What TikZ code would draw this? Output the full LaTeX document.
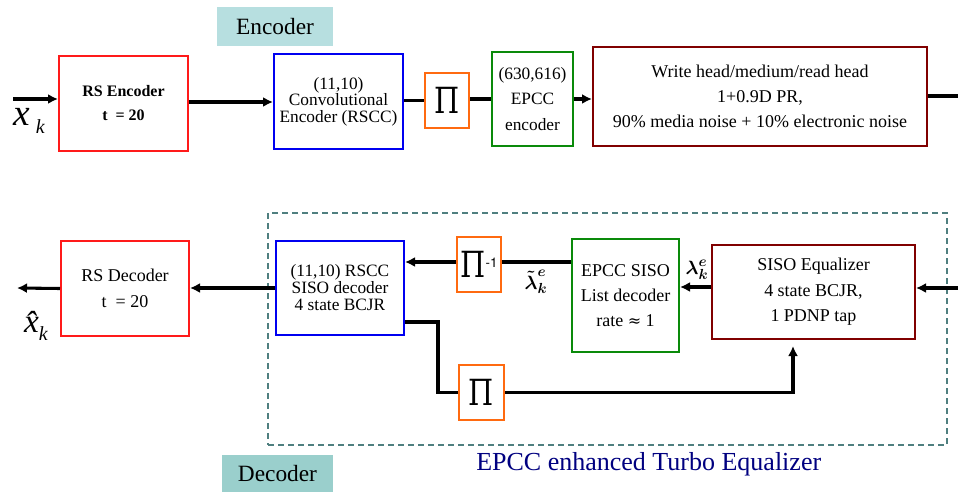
\documentclass[tikz,border=0pt]{standalone}
\usepackage{amsmath}
\usepackage{fontspec}
\newfontfamily\libser{Liberation Serif}
\newfontfamily\djser{DejaVu Serif}
\newfontfamily\heros{TeX Gyre Heros}
\usetikzlibrary{arrows.meta,calc}
\definecolor{cred}{HTML}{FF1A1A}
\definecolor{cblue}{HTML}{0000F0}
\definecolor{corange}{HTML}{FF6A10}
\definecolor{cgreen}{HTML}{0A8A0A}
\definecolor{cdred}{HTML}{800000}
\definecolor{cdash}{HTML}{4F7F7F}
\definecolor{cnavy}{HTML}{000080}
\definecolor{encfill}{HTML}{B7DFE0}
\definecolor{decfill}{HTML}{9ACFCC}
\newcommand\fsz[2]{\fontsize{#1}{#2}\selectfont}
\newcommand\bigpi{\scalebox{0.8}[1]{\djser\fsz{27pt}{27pt}Π}}
\begin{document}
\begin{tikzpicture}[x=0.75pt,y=-0.75pt,
  box/.style 2 args={draw, line width=1.5pt, minimum width=#1*0.75pt, minimum height=#2*0.75pt, inner sep=0pt, align=center},
  loose/.style={font=\libser\fsz{13.5pt}{19pt}},
  arr/.style={line width=2.3pt, -{Latex[length=7.5pt,width=7.5pt]}},
  ln/.style={line width=2.3pt},
]
\useasboundingbox (0,0) rectangle (958,492);

% dashed turbo equalizer frame
\node[draw=cdash, line width=0.8pt, dash pattern=on 4.5pt off 3pt, minimum width=679*0.75pt, minimum height=232*0.75pt, inner sep=0pt] (te) at (607.5,329) {};

% labels
\node[fill=encfill, minimum width=116*0.75pt, minimum height=39*0.75pt, inner sep=0pt, font=\libser\fsz{17.5pt}{20pt}] (enclab) at (275,26.5) {Encoder};
\node[fill=decfill, minimum width=111*0.75pt, minimum height=37*0.75pt, inner sep=0pt, font=\libser\fsz{17.5pt}{20pt}] (declab) at (277.5,473.5) {Decoder};
\node[anchor=base west, inner sep=0pt, text=cnavy, font=\libser\fsz{19.5pt}{22pt}] (title) at (476,470) {EPCC enhanced Turbo Equalizer};

% encoder row
\node[box={129}{95}, draw=cred, font=\libser\bfseries\fsz{12pt}{18pt}] (rsenc) at (123.5,103.5) {RS Encoder\\t~~= 20};
\node[box={129}{95}, draw=cblue, font=\libser\fsz{13pt}{12.5pt}] (conv) at (338.5,101.5) {(11,10)\\Convolutional\\Encoder (RSCC)};
\node[box={44}{55}, draw=corange] (pia) at (447,100.5) {\bigpi};
\node[box={81}{94}, draw=cgreen, font=\libser\fsz{13pt}{19pt}] (epccenc) at (532.5,99) {(630,616)\\EPCC\\encoder};
\node[box={334}{99}, draw=cdred, loose] (chan) at (760,96.5) {Write head/medium/read head\\1+0.9D PR,\\90\% media noise + 10\% electronic noise};

% decoder row
\node[box={128}{95}, draw=cred, font=\libser\fsz{13.5pt}{19.5pt}] (rsdec) at (125,288.5) {RS Decoder\\t~~= 20};
\node[box={128}{94}, draw=cblue, font=\libser\fsz{13pt}{12.8pt}] (rsccdec) at (340,288) {(11,10) RSCC\\SISO decoder\\4 state BCJR};
\node[box={44}{55}, draw=corange] (piinv) at (479,264.5) {\bigpi\raisebox{7.5pt}{\heros\fsz{10pt}{10pt}-1}};
\node[box={107}{113}, draw=cgreen, loose] (epccsiso) at (625.5,295.5) {EPCC SISO\\List decoder\\rate {\djser\fsz{12pt}{19pt}≈} 1};
\node[box={203}{94}, draw=cdred, loose] (eq) at (813.5,292) {SISO Equalizer\\4 state BCJR,\\1 PDNP tap};
\node[box={45}{55}, draw=corange] (pib) at (481.5,392.5) {\bigpi};

% free ends
\coordinate (xin) at (13,99);
\coordinate (chout) at (958,96);
\coordinate (eqin) at (958,288);
\coordinate (xout) at (17,288);

% encoder connectors
\draw[arr] (xin) -- (xin -| rsenc.west);
\draw[arr] (rsenc.east |- 0,102) -- (conv.west |- 0,102);
\draw[ln] (conv.east |- pia.west) -- (pia.west);
\draw[ln] (pia.east |- 0,99) -- (epccenc.west |- 0,99);
\draw[arr] (epccenc.east |- 0,99) -- (chan.west |- 0,99);
\draw[ln] (chan.east |- chout) -- (chout);

% decoder connectors
\draw[arr] (eqin) -- (eqin -| eq.east);
\draw[arr] (eq.west |- 0,287) -- (epccsiso.east |- 0,287);
\draw[ln] (epccsiso.west |- 0,262) -- (piinv.east |- 0,262);
\draw[arr] (piinv.west |- 0,262) -- (rsccdec.east |- 0,262);
\draw[arr] (rsccdec.west) -- (rsccdec.west -| rsdec.east);
\draw[arr] (rsdec.west) -- (xout);
\draw[ln] (rsccdec.east |- 0,322) -| ($(pib.west)+(-20,0)$) -- (pib.west);
\draw[arr] (pib.east) -| ($(eq.south)+(-20.5,6)$);

% symbol labels
\node[inner sep=0pt, font=\libser\itshape\fsz{28pt}{28pt}] (xk) at (29,121) {x\,\raisebox{-6pt}{\fsz{15pt}{15pt}k}};
\node[inner sep=0pt, font=\libser\itshape\fsz{25pt}{25pt}] (xhk) at (36,326) {\^{x}\raisebox{-6pt}{\fsz{15pt}{15pt}k}};
\node[inner sep=0pt, font=\fsz{15pt}{15pt}] (lamt) at (536,282) {$\boldsymbol{\tilde{\lambda}}_{\boldsymbol{k}}^{\boldsymbol{e}}$};
\node[inner sep=0pt, font=\fsz{15pt}{15pt}] (lam) at (697,270) {$\boldsymbol{\lambda}_{\boldsymbol{k}}^{\boldsymbol{e}}$};
\end{tikzpicture}
\end{document}
